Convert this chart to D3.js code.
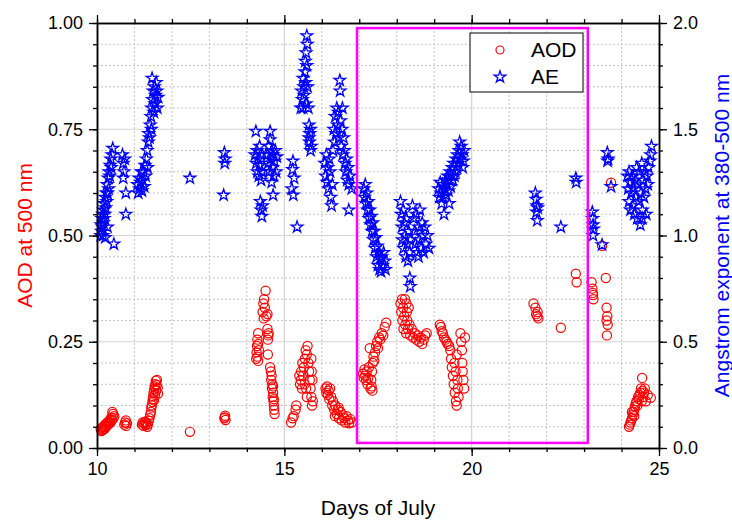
<!DOCTYPE html>
<html>
<head>
<meta charset="utf-8">
<script src="https://cdn.jsdelivr.net/npm/d3@7"></script>
<style>
  body { margin: 0; background: #fff; }
  svg text { font-family: "Liberation Sans", Arial, sans-serif; }
</style>
</head>
<body>
<div id="chart"></div>
<script>
// AOD (500 nm) readings, grouped by day of July
const aodJul10 = [[10.10,0.045],[10.12,0.040],[10.14,0.048],[10.15,0.042],[10.17,0.050],[10.18,0.044],[10.20,0.052],[10.21,0.046],[10.22,0.055],[10.24,0.050],[10.25,0.058],[10.27,0.053],[10.28,0.060],[10.30,0.056],[10.31,0.062],[10.33,0.058],[10.34,0.065],[10.36,0.060],[10.37,0.068],[10.38,0.072],[10.40,0.066],[10.41,0.085],[10.43,0.080],[10.44,0.070],[10.46,0.075],[10.73,0.055],[10.75,0.060],[10.77,0.065],[10.78,0.052],[10.80,0.058]];
const aodJul11 = [[11.20,0.055],[11.22,0.060],[11.24,0.052],[11.26,0.058],[11.28,0.062],[11.30,0.054],[11.32,0.060],[11.34,0.050],[11.36,0.056],[11.38,0.064],[11.40,0.070],[11.42,0.078],[11.44,0.085],[11.45,0.095],[11.46,0.100],[11.48,0.108],[11.49,0.115],[11.50,0.122],[11.51,0.130],[11.52,0.112],[11.53,0.138],[11.54,0.145],[11.55,0.125],[11.56,0.150],[11.57,0.158],[11.58,0.135],[11.59,0.148],[11.60,0.160],[11.62,0.142],[11.63,0.128]];
const aodJul12to13 = [[12.48,0.038],[13.40,0.070],[13.42,0.076],[13.43,0.066],[13.41,0.072]];
const aodJul14 = [[14.50,0.370],[14.46,0.350],[14.44,0.340],[14.48,0.330],[14.42,0.320],[14.55,0.315],[14.45,0.305],[14.52,0.310],[14.55,0.280],[14.57,0.265],[14.56,0.255],[14.58,0.270],[14.30,0.270],[14.28,0.255],[14.27,0.240],[14.30,0.245],[14.26,0.225],[14.28,0.215],[14.32,0.230],[14.25,0.210],[14.30,0.205],[14.56,0.220],[14.62,0.190],[14.64,0.180],[14.66,0.170],[14.65,0.160],[14.68,0.150],[14.67,0.140],[14.70,0.130],[14.69,0.120],[14.71,0.110],[14.72,0.100],[14.73,0.090],[14.74,0.080],[14.72,0.115],[14.70,0.145]];
const aodJul15 = [[15.18,0.060],[15.22,0.070],[15.25,0.075],[15.30,0.090],[15.32,0.100],[15.40,0.170],[15.42,0.150],[15.44,0.160],[15.45,0.180],[15.47,0.140],[15.48,0.200],[15.50,0.170],[15.52,0.190],[15.54,0.150],[15.55,0.210],[15.57,0.230],[15.60,0.220],[15.62,0.240],[15.64,0.200],[15.66,0.180],[15.68,0.160],[15.70,0.140],[15.72,0.120],[15.74,0.100],[15.73,0.180],[15.75,0.160],[15.72,0.210],[15.76,0.110],[15.60,0.120],[15.58,0.140]];
const aodJul16 = [[16.10,0.140],[16.12,0.130],[16.14,0.145],[16.16,0.125],[16.18,0.135],[16.20,0.115],[16.22,0.140],[16.25,0.120],[16.28,0.100],[16.30,0.110],[16.33,0.090],[16.36,0.100],[16.40,0.080],[16.43,0.090],[16.46,0.070],[16.50,0.085],[16.53,0.065],[16.56,0.078],[16.60,0.070],[16.63,0.060],[16.66,0.075],[16.70,0.065],[16.73,0.058],[16.76,0.068],[16.80,0.060],[16.35,0.075],[16.45,0.095]];
const aodJul17 = [[17.10,0.175],[17.12,0.165],[17.14,0.185],[17.16,0.170],[17.18,0.160],[17.20,0.180],[17.22,0.150],[17.24,0.165],[17.26,0.190],[17.28,0.235],[17.30,0.140],[17.32,0.160],[17.34,0.180],[17.36,0.200],[17.38,0.215],[17.40,0.205],[17.42,0.225],[17.45,0.240],[17.48,0.250],[17.50,0.235],[17.53,0.260],[17.56,0.255],[17.60,0.270],[17.64,0.265],[17.68,0.285],[17.72,0.295],[17.33,0.145],[17.35,0.135]];
const aodJul18 = [[18.10,0.340],[18.12,0.320],[18.14,0.350],[18.15,0.300],[18.17,0.330],[18.18,0.280],[18.20,0.310],[18.22,0.350],[18.23,0.290],[18.25,0.270],[18.27,0.320],[18.28,0.300],[18.30,0.280],[18.32,0.330],[18.34,0.290],[18.36,0.265],[18.40,0.280],[18.44,0.260],[18.48,0.270],[18.52,0.255],[18.56,0.265],[18.60,0.250],[18.64,0.260],[18.68,0.245],[18.72,0.255],[18.76,0.265],[18.80,0.270],[18.26,0.340]];
const aodJul19 = [[19.15,0.290],[19.18,0.285],[19.20,0.275],[19.23,0.270],[19.26,0.260],[19.30,0.255],[19.33,0.250],[19.36,0.245],[19.40,0.240],[19.43,0.230],[19.45,0.210],[19.47,0.190],[19.50,0.170],[19.52,0.150],[19.54,0.200],[19.55,0.130],[19.57,0.180],[19.58,0.110],[19.60,0.100],[19.62,0.160],[19.63,0.140],[19.65,0.120],[19.60,0.220],[19.70,0.270],[19.72,0.250],[19.74,0.230],[19.75,0.200],[19.76,0.180],[19.78,0.160],[19.80,0.140],[19.82,0.260]];
const aodJul21to23 = [[21.65,0.340],[21.70,0.330],[21.72,0.315],[21.75,0.310],[21.78,0.305],[21.76,0.320],[22.38,0.283],[22.78,0.410],[22.80,0.390],[23.20,0.390],[23.22,0.375],[23.24,0.360],[23.25,0.350],[23.23,0.365],[23.48,0.476],[23.58,0.400],[23.60,0.330],[23.62,0.310],[23.60,0.300],[23.63,0.290],[23.61,0.265],[23.72,0.624]];
const aodJul24 = [[24.20,0.050],[24.22,0.055],[24.24,0.060],[24.26,0.065],[24.28,0.070],[24.30,0.078],[24.32,0.085],[24.34,0.090],[24.36,0.098],[24.38,0.105],[24.40,0.110],[24.42,0.100],[24.44,0.120],[24.46,0.115],[24.48,0.125],[24.50,0.130],[24.52,0.140],[24.55,0.165],[24.54,0.110],[24.56,0.135],[24.58,0.120],[24.60,0.130],[24.62,0.140],[24.65,0.110],[24.70,0.125],[24.78,0.118],[24.34,0.075],[24.28,0.085]];

// Angstrom exponent (380-500 nm) readings
const aeJul10 = [[10.10,1.00],[10.11,1.05],[10.12,1.02],[10.13,1.08],[10.14,1.04],[10.15,1.10],[10.16,1.00],[10.17,1.06],[10.18,1.12],[10.19,1.08],[10.20,1.15],[10.21,1.10],[10.22,1.18],[10.23,1.13],[10.25,1.20],[10.26,1.16],[10.27,1.24],[10.28,1.20],[10.30,1.27],[10.31,1.22],[10.32,1.30],[10.34,1.28],[10.35,1.33],[10.37,1.36],[10.38,1.32],[10.40,1.38],[10.42,1.41],[10.45,0.96],[10.28,1.04],[10.22,0.99],[10.68,1.38],[10.70,1.34],[10.72,1.30],[10.74,1.36],[10.70,1.27],[10.77,1.20],[10.77,1.10]];
const aeJul11 = [[11.08,1.24],[11.10,1.20],[11.12,1.27],[11.14,1.22],[11.16,1.25],[11.18,1.30],[11.20,1.21],[11.22,1.26],[11.24,1.30],[11.26,1.23],[11.28,1.33],[11.30,1.28],[11.32,1.36],[11.34,1.40],[11.35,1.32],[11.37,1.44],[11.38,1.48],[11.40,1.46],[11.42,1.52],[11.44,1.56],[11.45,1.50],[11.46,1.60],[11.47,1.74],[11.48,1.64],[11.50,1.68],[11.52,1.58],[11.53,1.70],[11.55,1.62],[11.56,1.66],[11.58,1.72],[11.60,1.68],[11.61,1.60],[11.63,1.65]];
const aeJul12to13 = [[12.48,1.27],[13.40,1.39],[13.42,1.36],[13.41,1.34],[13.38,1.19]];
const aeJul14 = [[14.22,1.38],[14.24,1.49],[14.25,1.34],[14.27,1.40],[14.28,1.30],[14.30,1.36],[14.32,1.28],[14.34,1.42],[14.35,1.33],[14.37,1.38],[14.38,1.26],[14.40,1.30],[14.36,1.16],[14.38,1.12],[14.40,1.09],[14.42,1.14],[14.55,1.38],[14.57,1.34],[14.58,1.42],[14.60,1.30],[14.62,1.49],[14.62,1.45],[14.64,1.36],[14.66,1.40],[14.68,1.32],[14.70,1.38],[14.72,1.28],[14.74,1.35],[14.76,1.40],[14.78,1.30],[14.80,1.37],[14.70,1.19],[14.66,1.25]];
const aeJul15 = [[15.20,1.22],[15.22,1.31],[15.23,1.35],[15.24,1.19],[15.26,1.27],[15.34,1.04],[15.60,1.94],[15.61,1.90],[15.58,1.86],[15.56,1.82],[15.60,1.80],[15.55,1.77],[15.50,1.74],[15.52,1.70],[15.57,1.72],[15.46,1.68],[15.48,1.64],[15.53,1.66],[15.44,1.60],[15.50,1.60],[15.58,1.62],[15.62,1.70],[15.64,1.60],[15.66,1.52],[15.68,1.48],[15.70,1.50],[15.67,1.44],[15.72,1.42],[15.70,1.40],[15.66,1.46]];
const aeJul16 = [[16.08,1.34],[16.10,1.28],[16.12,1.38],[16.14,1.25],[16.16,1.32],[16.18,1.22],[16.20,1.36],[16.22,1.30],[16.24,1.18],[16.26,1.14],[16.28,1.24],[16.30,1.40],[16.32,1.50],[16.34,1.44],[16.36,1.56],[16.38,1.48],[16.40,1.60],[16.42,1.52],[16.44,1.58],[16.46,1.46],[16.48,1.73],[16.49,1.68],[16.50,1.54],[16.52,1.42],[16.54,1.50],[16.56,1.38],[16.58,1.46],[16.60,1.40],[16.62,1.34],[16.64,1.30],[16.66,1.36],[16.68,1.26],[16.70,1.32],[16.72,1.24],[16.75,1.28],[16.80,1.22],[16.72,1.12],[16.55,1.60]];
const aeJul17 = [[17.12,1.22],[17.14,1.18],[17.16,1.24],[17.18,1.15],[17.20,1.20],[17.22,1.12],[17.24,1.16],[17.26,1.08],[17.28,1.12],[17.30,1.05],[17.32,1.09],[17.34,1.02],[17.36,1.06],[17.38,0.98],[17.40,1.02],[17.42,0.94],[17.44,0.99],[17.46,0.90],[17.48,0.95],[17.50,0.86],[17.52,0.92],[17.54,0.84],[17.56,0.89],[17.58,0.83],[17.60,0.90],[17.62,0.86],[17.65,0.92],[17.68,0.88],[17.70,0.84]];
const aeJul18 = [[18.10,1.16],[18.12,1.10],[18.14,1.04],[18.15,0.98],[18.17,1.12],[18.18,0.94],[18.20,1.06],[18.22,1.00],[18.24,0.90],[18.26,1.08],[18.28,0.96],[18.30,0.88],[18.32,1.02],[18.34,0.92],[18.36,0.98],[18.35,0.80],[18.36,0.76],[18.42,1.14],[18.45,1.08],[18.48,1.02],[18.50,0.96],[18.52,1.10],[18.55,0.92],[18.58,1.04],[18.60,0.98],[18.62,1.12],[18.65,0.94],[18.68,1.06],[18.70,1.00],[18.72,0.92],[18.75,1.04],[18.78,0.96],[18.82,1.00],[18.86,0.94],[18.58,0.90]];
const aeJul19 = [[19.12,1.22],[19.14,1.18],[19.16,1.25],[19.18,1.20],[19.20,1.15],[19.22,1.24],[19.24,1.18],[19.26,1.10],[19.28,1.22],[19.30,1.26],[19.32,1.19],[19.34,1.24],[19.36,1.28],[19.38,1.21],[19.40,1.26],[19.42,1.30],[19.44,1.23],[19.46,1.28],[19.48,1.32],[19.50,1.26],[19.52,1.34],[19.54,1.28],[19.56,1.30],[19.58,1.36],[19.60,1.32],[19.62,1.38],[19.64,1.34],[19.66,1.40],[19.68,1.44],[19.70,1.36],[19.72,1.42],[19.74,1.38],[19.76,1.32],[19.78,1.35],[19.80,1.40],[19.40,1.15]];
const aeJul21to23 = [[21.70,1.20],[21.72,1.17],[21.74,1.14],[21.73,1.11],[21.76,1.13],[21.75,1.07],[22.38,1.04],[22.78,1.27],[22.79,1.25],[23.22,1.11],[23.23,1.08],[23.24,1.05],[23.25,1.03],[23.24,1.00],[23.48,0.956],[23.62,1.39],[23.64,1.36],[23.63,1.35],[23.72,1.23]];
const aeJul24 = [[24.16,1.28],[24.18,1.22],[24.20,1.16],[24.20,1.30],[24.22,1.25],[24.24,1.12],[24.26,1.20],[24.28,1.28],[24.30,1.14],[24.32,1.22],[24.34,1.10],[24.36,1.26],[24.38,1.18],[24.40,1.32],[24.42,1.08],[24.44,1.24],[24.46,1.16],[24.48,1.30],[24.50,1.05],[24.52,1.20],[24.54,1.34],[24.56,1.12],[24.58,1.26],[24.60,1.18],[24.62,1.30],[24.64,1.22],[24.66,1.10],[24.68,1.28],[24.70,1.24],[24.72,1.32],[24.76,1.35],[24.78,1.38],[24.80,1.42],[24.55,1.08]];

// axis ticks and the highlighted period
const dayTicks = [10, 15, 20, 25];
const aodTicks = [0, 0.25, 0.5, 0.75, 1.0];
const aeTicks = [0, 0.5, 1.0, 1.5, 2.0];
const boxDays = [16.94, 23.1];
const boxAod = [0.012, 0.988];
const legendLabels = ['AOD', 'AE'];

const aodPoints = [].concat(aodJul10, aodJul11, aodJul12to13, aodJul14, aodJul15, aodJul16,
  aodJul17, aodJul18, aodJul19, aodJul21to23, aodJul24);
const aePoints = [].concat(aeJul10, aeJul11, aeJul12to13, aeJul14, aeJul15, aeJul16,
  aeJul17, aeJul18, aeJul19, aeJul21to23, aeJul24);

const margin = { top: 23, right: 73, bottom: 72, left: 97 },
  width = 732 - margin.left - margin.right,
  height = 520 - margin.top - margin.bottom;

const svg = d3.select('#chart')
  .append('svg')
  .attr('width', 732)
  .attr('height', 520)
  .append('g')
  .attr('transform', `translate(${margin.left},${margin.top})`);

const x = d3.scaleLinear().domain([10, 25]).range([0, width]);
const yL = d3.scaleLinear().domain([0, 1]).range([height, 0]);
const yR = d3.scaleLinear().domain([0, 2]).range([height, 0]);

// grid: dotted minor, solid major
const minorX = d3.range(11, 25).filter(d => d % 5 !== 0);
const minorY = d3.range(1, 20).map(d => d / 20).filter(d => !aodTicks.includes(d));
const grid = svg.append('g');
grid.selectAll('line.vminor').data(minorX).join('line')
  .attr('x1', d => x(d)).attr('x2', d => x(d))
  .attr('y1', 0).attr('y2', height)
  .attr('stroke', '#c4c4c4').attr('stroke-dasharray', '2,2').attr('stroke-width', 1);
grid.selectAll('line.hminor').data(minorY).join('line')
  .attr('x1', 0).attr('x2', width)
  .attr('y1', d => yL(d)).attr('y2', d => yL(d))
  .attr('stroke', '#c4c4c4').attr('stroke-dasharray', '2,2').attr('stroke-width', 1);
grid.selectAll('line.vmajor').data(dayTicks.slice(1, -1)).join('line')
  .attr('x1', d => x(d)).attr('x2', d => x(d))
  .attr('y1', 0).attr('y2', height)
  .attr('stroke', '#d4d4d4').attr('stroke-width', 1.2);
grid.selectAll('line.hmajor').data(aodTicks.slice(1, -1)).join('line')
  .attr('x1', 0).attr('x2', width)
  .attr('y1', d => yL(d)).attr('y2', d => yL(d))
  .attr('stroke', '#d4d4d4').attr('stroke-width', 1.2);

// points
svg.append('g').selectAll('circle').data(aodPoints).join('circle')
  .attr('cx', d => x(d[0]))
  .attr('cy', d => yL(d[1]))
  .attr('r', 4.6)
  .attr('fill', 'none')
  .attr('stroke', '#ff0000')
  .attr('stroke-width', 1.2);

const star = d3.symbol().type(d3.symbolStar).size(42);
svg.append('g').selectAll('path').data(aePoints).join('path')
  .attr('transform', d => `translate(${x(d[0])},${yR(d[1])})`)
  .attr('d', star)
  .attr('fill', 'none')
  .attr('stroke', '#0000ff')
  .attr('stroke-width', 1.3);

// highlight box
svg.append('rect')
  .attr('x', x(boxDays[0]))
  .attr('y', yL(boxAod[1]))
  .attr('width', x(boxDays[1]) - x(boxDays[0]))
  .attr('height', yL(boxAod[0]) - yL(boxAod[1]))
  .attr('fill', 'none')
  .attr('stroke', '#ff00ff')
  .attr('stroke-width', 2.5);

// axes
const styleAxis = (g) => {
  g.selectAll('path.domain').attr('stroke', '#000').attr('stroke-width', 1.5);
  g.selectAll('.tick line').attr('stroke', '#000').attr('stroke-width', 1.3);
  g.selectAll('.tick text').attr('font-size', '18px').attr('fill', '#000');
};
const minorDays = d3.range(10, 26);
const minorAod = d3.range(0, 21).map(d => d / 20);

svg.append('g').attr('transform', `translate(0,${height})`)
  .call(d3.axisBottom(x).tickValues(minorDays).tickFormat('').tickSize(4).tickSizeOuter(0))
  .call(styleAxis);
svg.append('g').attr('transform', `translate(0,${height})`)
  .call(d3.axisBottom(x).tickValues(dayTicks).tickFormat(d3.format('d')).tickSize(8).tickPadding(6).tickSizeOuter(0))
  .call(styleAxis);
svg.append('g')
  .call(d3.axisTop(x).tickValues(minorDays).tickFormat('').tickSize(4).tickSizeOuter(0))
  .call(styleAxis);
svg.append('g')
  .call(d3.axisTop(x).tickValues(dayTicks).tickFormat('').tickSize(8).tickSizeOuter(0))
  .call(styleAxis);

svg.append('g')
  .call(d3.axisLeft(yL).tickValues(minorAod).tickFormat('').tickSize(4).tickSizeOuter(0))
  .call(styleAxis);
svg.append('g')
  .call(d3.axisLeft(yL).tickValues(aodTicks).tickFormat(d3.format('.2f')).tickSize(8).tickPadding(6).tickSizeOuter(0))
  .call(styleAxis);
svg.append('g').attr('transform', `translate(${width},0)`)
  .call(d3.axisRight(yR).tickValues(minorAod.map(d => d * 2)).tickFormat('').tickSize(4).tickSizeOuter(0))
  .call(styleAxis);
svg.append('g').attr('transform', `translate(${width},0)`)
  .call(d3.axisRight(yR).tickValues(aeTicks).tickFormat(d3.format('.1f')).tickSize(8).tickPadding(6).tickSizeOuter(0))
  .call(styleAxis);

// axis titles
svg.append('text')
  .attr('x', width / 2)
  .attr('y', height + 67)
  .attr('text-anchor', 'middle')
  .attr('font-size', '21px')
  .text('Days of July');

svg.append('text')
  .attr('transform', `translate(${-65},${height / 2}) rotate(-90)`)
  .attr('text-anchor', 'middle')
  .attr('font-size', '21px')
  .attr('fill', '#ff0000')
  .text('AOD at 500 nm');

svg.append('text')
  .attr('transform', `translate(${width + 70},${height / 2}) rotate(-90)`)
  .attr('text-anchor', 'middle')
  .attr('font-size', '21px')
  .attr('fill', '#0000ff')
  .text('Angstrom exponent at 380-500 nm');

// legend
const legend = svg.append('g').attr('transform', `translate(${470 - margin.left},${33 - margin.top})`);
legend.append('rect')
  .attr('width', 113).attr('height', 59)
  .attr('fill', '#fff').attr('stroke', '#000').attr('stroke-width', 1);
legend.append('circle')
  .attr('cx', 30).attr('cy', 17).attr('r', 4)
  .attr('fill', 'none').attr('stroke', '#ff0000').attr('stroke-width', 1.2);
legend.append('path')
  .attr('transform', 'translate(30,44)')
  .attr('d', star)
  .attr('fill', 'none').attr('stroke', '#0000ff').attr('stroke-width', 1.3);
legend.selectAll('text.lab').data(legendLabels).join('text')
  .attr('x', 61)
  .attr('y', (d, i) => 24 + i * 27)
  .attr('font-size', '21px')
  .text(d => d);
</script>
</body>
</html>
